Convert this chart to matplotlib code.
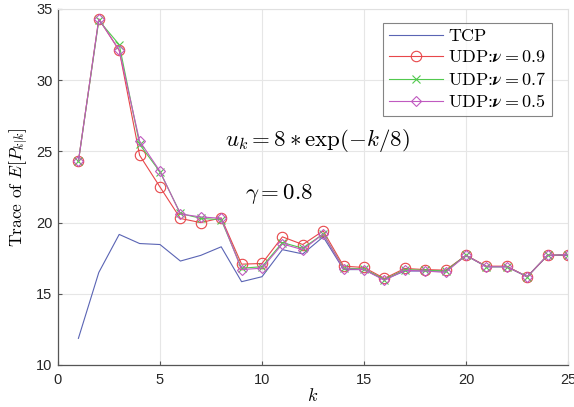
import numpy as np
import matplotlib
matplotlib.use('Agg')
import matplotlib.pyplot as plt

plt.rcParams['mathtext.fontset'] = 'cm'
plt.rcParams['axes.unicode_minus'] = False

k = list(range(1, 26))

trace_tcp = [11.87, 16.5, 19.17, 18.53, 18.46, 17.3, 17.7, 18.3, 15.85, 16.2,
             18.1, 17.8, 19.0, 16.7, 16.7, 16.0, 16.6, 16.6, 16.6, 17.7,
             16.9, 16.9, 16.2, 17.7, 17.7]
trace_nu09 = [24.3, 34.3, 32.1, 24.73, 22.5, 20.29, 20.0, 20.33, 17.08, 17.13,
              19.0, 18.46, 19.42, 16.94, 16.85, 16.08, 16.78, 16.7, 16.66, 17.7,
              16.94, 16.94, 16.2, 17.7, 17.75]
trace_nu07 = [24.3, 34.2, 32.5, 25.5, 23.56, 20.64, 20.3, 20.2, 16.8, 16.9,
              18.6, 18.2, 19.2, 16.8, 16.75, 16.0, 16.7, 16.65, 16.6, 17.7,
              16.9, 16.9, 16.2, 17.7, 17.75]
trace_nu05 = [24.3, 34.3, 32.1, 25.73, 23.6, 20.6, 20.4, 20.3, 16.7, 16.8,
              18.5, 18.1, 19.2, 16.75, 16.7, 15.95, 16.65, 16.6, 16.5, 17.7,
              16.9, 16.9, 16.2, 17.7, 17.75]

fig = plt.figure(figsize=(5.74, 4.07), dpi=100)
ax = fig.add_axes([58 / 574, 1 - 365 / 407, (568 - 58) / 574, (365 - 9) / 407])

ax.plot(k, trace_tcp, color='#5a64b4', lw=0.8, label='TCP')
ax.plot(k, trace_nu09, color='#e8474a', lw=0.8, marker='o', ms=7.5,
        mfc='none', mew=0.8, label=r'UDP:$\boldsymbol{\nu}=0.9$')
ax.plot(k, trace_nu07, color='#52c94e', lw=0.8, marker='x', ms=6,
        mew=0.8, label=r'UDP:$\boldsymbol{\nu}=0.7$')
ax.plot(k, trace_nu05, color='#c05ac0', lw=0.8, marker='D', ms=5.5,
        mfc='none', mew=0.8, label=r'UDP:$\boldsymbol{\nu}=0.5$')

ax.set_xlim(0, 25)
ax.set_ylim(10, 35)
ax.set_xticks([0, 5, 10, 15, 20, 25])
ax.set_yticks([10, 15, 20, 25, 30, 35])
ax.grid(True, color='#e6e6e6', lw=0.8)
ax.set_axisbelow(True)
ax.tick_params(direction='in', length=3, width=0.8, labelsize=10.5,
               colors='#555555', labelcolor='#262626')
ax.tick_params(axis='x', pad=6)
ax.tick_params(axis='y', pad=4)
for lbl in ax.get_xticklabels() + ax.get_yticklabels():
    lbl.set_family('Liberation Sans')
for side in ['top', 'right']:
    ax.spines[side].set_color('#e0e0e0')
for side in ['bottom', 'left']:
    ax.spines[side].set_color('#555555')
    ax.spines[side].set_linewidth(0.9)

ax.set_xlabel('$k$', fontsize=13, labelpad=0)
ax.set_ylabel('Trace of $E[P_{k|k}]$', family='cmr10', fontsize=12.5,
              labelpad=4)

ax.text(8.2, 25.8, r'$u_k = 8 * \exp(-k/8)$', fontsize=16.5, va='center')
ax.text(9.15, 22.0, r'$\gamma = 0.8$', fontsize=16.5, va='center')

leg = ax.legend(loc='upper right', bbox_to_anchor=(552 / 574, 1 - 23 / 407),
                bbox_transform=fig.transFigure, fontsize=13, frameon=True,
                fancybox=False, handlelength=3.0, handletextpad=0.3,
                labelspacing=0.3, borderpad=0.3, borderaxespad=0)
leg.get_frame().set_edgecolor('#666666')
leg.get_frame().set_linewidth(0.8)
for t in leg.get_texts():
    t.set_family('cmr10')

fig.savefig('out.png', dpi=100)
